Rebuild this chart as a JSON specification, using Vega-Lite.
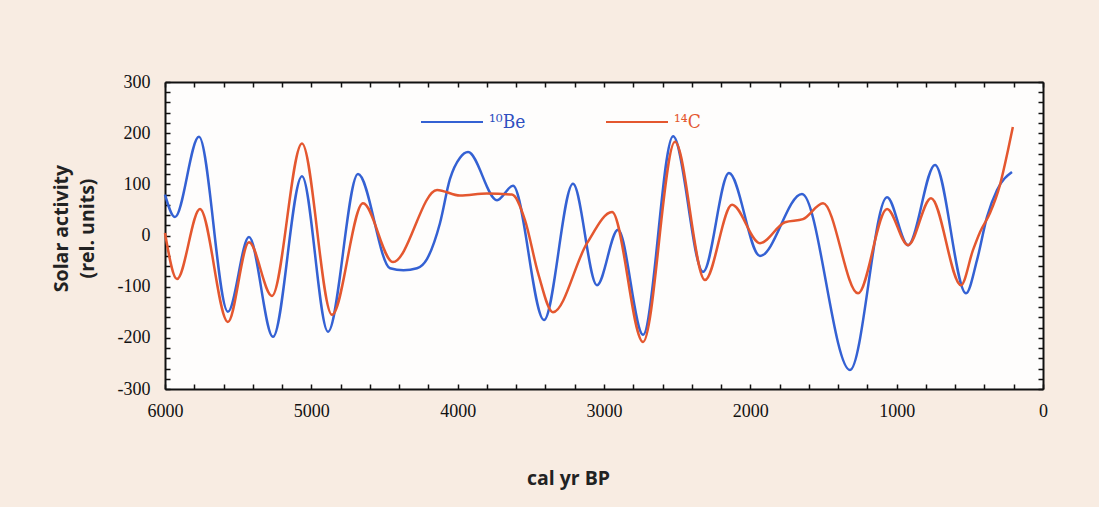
{
  "$schema": "https://vega.github.io/schema/vega-lite/v6.json",
  "autosize": {"type": "none"},
  "padding": {"left": 165, "top": 82, "right": 56, "bottom": 118},
  "width": 878,
  "height": 307,
  "background": "#f8ece2",
  "view": {"fill": "#fefdfc", "stroke": null},
  "data": {"values": [
    {"year": 6000, "value": 80, "series": "¹⁰Be"},
    {"year": 5932, "value": 36, "series": "¹⁰Be"},
    {"year": 5768, "value": 193, "series": "¹⁰Be"},
    {"year": 5570, "value": -149, "series": "¹⁰Be"},
    {"year": 5426, "value": -3, "series": "¹⁰Be"},
    {"year": 5262, "value": -198, "series": "¹⁰Be"},
    {"year": 5064, "value": 116, "series": "¹⁰Be"},
    {"year": 4886, "value": -188, "series": "¹⁰Be"},
    {"year": 4681, "value": 120, "series": "¹⁰Be"},
    {"year": 4462, "value": -64, "series": "¹⁰Be"},
    {"year": 4370, "value": -68, "series": "¹⁰Be"},
    {"year": 4278, "value": -64, "series": "¹⁰Be"},
    {"year": 4210, "value": -46, "series": "¹⁰Be"},
    {"year": 4121, "value": 24, "series": "¹⁰Be"},
    {"year": 4053, "value": 110, "series": "¹⁰Be"},
    {"year": 3984, "value": 152, "series": "¹⁰Be"},
    {"year": 3929, "value": 163, "series": "¹⁰Be"},
    {"year": 3731, "value": 69, "series": "¹⁰Be"},
    {"year": 3622, "value": 97, "series": "¹⁰Be"},
    {"year": 3410, "value": -165, "series": "¹⁰Be"},
    {"year": 3212, "value": 101, "series": "¹⁰Be"},
    {"year": 3048, "value": -97, "series": "¹⁰Be"},
    {"year": 2904, "value": 11, "series": "¹⁰Be"},
    {"year": 2733, "value": -194, "series": "¹⁰Be"},
    {"year": 2528, "value": 194, "series": "¹⁰Be"},
    {"year": 2323, "value": -71, "series": "¹⁰Be"},
    {"year": 2146, "value": 122, "series": "¹⁰Be"},
    {"year": 1934, "value": -40, "series": "¹⁰Be"},
    {"year": 1647, "value": 81, "series": "¹⁰Be"},
    {"year": 1319, "value": -263, "series": "¹⁰Be"},
    {"year": 1066, "value": 75, "series": "¹⁰Be"},
    {"year": 922, "value": -19, "series": "¹⁰Be"},
    {"year": 738, "value": 138, "series": "¹⁰Be"},
    {"year": 526, "value": -113, "series": "¹⁰Be"},
    {"year": 451, "value": -48, "series": "¹⁰Be"},
    {"year": 383, "value": 36, "series": "¹⁰Be"},
    {"year": 314, "value": 89, "series": "¹⁰Be"},
    {"year": 212, "value": 124, "series": "¹⁰Be"},
    {"year": 6000, "value": 5, "series": "¹⁴C"},
    {"year": 5918, "value": -85, "series": "¹⁴C"},
    {"year": 5761, "value": 52, "series": "¹⁴C"},
    {"year": 5570, "value": -169, "series": "¹⁴C"},
    {"year": 5426, "value": -13, "series": "¹⁴C"},
    {"year": 5269, "value": -118, "series": "¹⁴C"},
    {"year": 5064, "value": 180, "series": "¹⁴C"},
    {"year": 4859, "value": -155, "series": "¹⁴C"},
    {"year": 4647, "value": 63, "series": "¹⁴C"},
    {"year": 4442, "value": -52, "series": "¹⁴C"},
    {"year": 4141, "value": 89, "series": "¹⁴C"},
    {"year": 3984, "value": 78, "series": "¹⁴C"},
    {"year": 3800, "value": 82, "series": "¹⁴C"},
    {"year": 3629, "value": 80, "series": "¹⁴C"},
    {"year": 3540, "value": 30, "series": "¹⁴C"},
    {"year": 3450, "value": -74, "series": "¹⁴C"},
    {"year": 3349, "value": -150, "series": "¹⁴C"},
    {"year": 3116, "value": -15, "series": "¹⁴C"},
    {"year": 2945, "value": 46, "series": "¹⁴C"},
    {"year": 2733, "value": -208, "series": "¹⁴C"},
    {"year": 2515, "value": 183, "series": "¹⁴C"},
    {"year": 2310, "value": -87, "series": "¹⁴C"},
    {"year": 2125, "value": 60, "series": "¹⁴C"},
    {"year": 1934, "value": -15, "series": "¹⁴C"},
    {"year": 1763, "value": 26, "series": "¹⁴C"},
    {"year": 1640, "value": 32, "series": "¹⁴C"},
    {"year": 1503, "value": 63, "series": "¹⁴C"},
    {"year": 1264, "value": -113, "series": "¹⁴C"},
    {"year": 1066, "value": 52, "series": "¹⁴C"},
    {"year": 922, "value": -19, "series": "¹⁴C"},
    {"year": 765, "value": 73, "series": "¹⁴C"},
    {"year": 560, "value": -97, "series": "¹⁴C"},
    {"year": 478, "value": -28, "series": "¹⁴C"},
    {"year": 430, "value": 7, "series": "¹⁴C"},
    {"year": 362, "value": 44, "series": "¹⁴C"},
    {"year": 294, "value": 99, "series": "¹⁴C"},
    {"year": 239, "value": 167, "series": "¹⁴C"},
    {"year": 206, "value": 212, "series": "¹⁴C"}
  ]},
  "layer": [
    {
      "mark": {"type": "line", "interpolate": "monotone", "strokeWidth": 2.5},
      "encoding": {
        "x": {
          "field": "year", "type": "quantitative",
          "scale": {"domain": [0, 6000], "reverse": true, "nice": false, "zero": false},
          "axis": {
            "orient": "bottom",
            "values": [0,200,400,600,800,1000,1200,1400,1600,1800,2000,2200,2400,2600,2800,3000,3200,3400,3600,3800,4000,4200,4400,4600,4800,5000,5200,5400,5600,5800,6000],
            "labelExpr": "datum.value % 1000 === 0 ? '' + datum.value : ''",
            "labelFlush": false,
            "labelOverlap": false,
            "labelFont": "Liberation Serif",
            "labelFontSize": 18,
            "labelColor": "#111",
            "labelPadding": 18,
            "ticks": true,
            "tickSize": -5,
            "tickColor": "#111",
            "tickWidth": 1.5,
            "domainColor": "#111",
            "domainWidth": 2,
            "grid": false,
            "title": "cal yr BP",
            "titleFont": "Open Sans",
            "titleFontSize": 19.5,
            "titleFontWeight": "bold",
            "titleColor": "#222",
            "titleX": 403,
            "titleY": 89,
            "titleBaseline": "middle",
            "encode": {"ticks": {"update": {"y2": {"signal": "datum.value % 1000 === 0 ? -9 : -5"}}}}
          }
        },
        "y": {
          "field": "value", "type": "quantitative",
          "scale": {"domain": [-300, 300], "nice": false},
          "axis": {
            "orient": "left",
            "values": [-300,-280,-260,-240,-220,-200,-180,-160,-140,-120,-100,-80,-60,-40,-20,0,20,40,60,80,100,120,140,160,180,200,220,240,260,280,300],
            "labelExpr": "datum.value % 100 === 0 ? '' + datum.value : ''",
            "labelOverlap": false,
            "labelFlush": false,
            "labelFont": "Liberation Serif",
            "labelFontSize": 18,
            "labelColor": "#111",
            "labelPadding": 20,
            "ticks": true,
            "tickSize": -5,
            "tickColor": "#111",
            "tickWidth": 1.5,
            "domainColor": "#111",
            "domainWidth": 2,
            "grid": false,
            "title": ["Solar activity", "(rel. units)"],
            "titleFont": "Open Sans",
            "titleFontSize": 19.5,
            "titleFontWeight": "bold",
            "titleColor": "#222",
            "titleLineHeight": 26,
            "titleX": -104,
            "titleY": 146,
            "titleAngle": -90,
            "titleAlign": "center",
            "titleBaseline": "middle",
            "encode": {"ticks": {"update": {"x2": {"signal": "datum.value % 100 === 0 ? 9 : 5"}}}}
          }
        },
        "color": {
          "field": "series", "type": "nominal",
          "scale": {"domain": ["¹⁰Be", "¹⁴C"], "range": ["#3461d3", "#e4572f"]},
          "legend": {
            "orient": "none",
            "direction": "horizontal",
            "legendX": 255,
            "legendY": 8,
            "padding": 0,
            "title": null,
            "symbolType": "stroke",
            "symbolSize": 3844,
            "symbolStrokeWidth": 2,
            "labelFont": "DejaVu Serif Condensed, DejaVu Serif",
            "labelFontSize": 19,
            "labelOffset": 5,
            "columnPadding": 76,
            "encode": {"labels": {"update": {"fill": {"signal": "datum.value === '¹⁰Be' ? '#2f4fc0' : '#e4572f'"}}}}
          }
        }
      }
    },
    {
      "mark": {"type": "line", "interpolate": "monotone", "strokeOpacity": 0},
      "encoding": {
        "x": {
          "field": "year", "type": "quantitative",
          "axis": {
            "orient": "top",
            "values": [0,200,400,600,800,1000,1200,1400,1600,1800,2000,2200,2400,2600,2800,3000,3200,3400,3600,3800,4000,4200,4400,4600,4800,5000,5200,5400,5600,5800,6000],
            "labels": false,
            "title": null,
            "ticks": true,
            "tickSize": -5,
            "tickColor": "#111",
            "tickWidth": 1.5,
            "domainColor": "#111",
            "domainWidth": 2,
            "grid": false,
            "encode": {"ticks": {"update": {"y2": {"signal": "datum.value % 1000 === 0 ? 9 : 5"}}}}
          }
        },
        "y": {
          "field": "value", "type": "quantitative",
          "axis": {
            "orient": "right",
            "values": [-300,-280,-260,-240,-220,-200,-180,-160,-140,-120,-100,-80,-60,-40,-20,0,20,40,60,80,100,120,140,160,180,200,220,240,260,280,300],
            "labels": false,
            "title": null,
            "ticks": true,
            "tickSize": -5,
            "tickColor": "#111",
            "tickWidth": 1.5,
            "domainColor": "#111",
            "domainWidth": 2,
            "grid": false,
            "encode": {"ticks": {"update": {"x2": {"signal": "datum.value % 100 === 0 ? -9 : -5"}}}}
          }
        },
        "detail": {"field": "series", "type": "nominal"}
      }
    }
  ],
  "resolve": {"axis": {"x": "independent", "y": "independent"}}
}
